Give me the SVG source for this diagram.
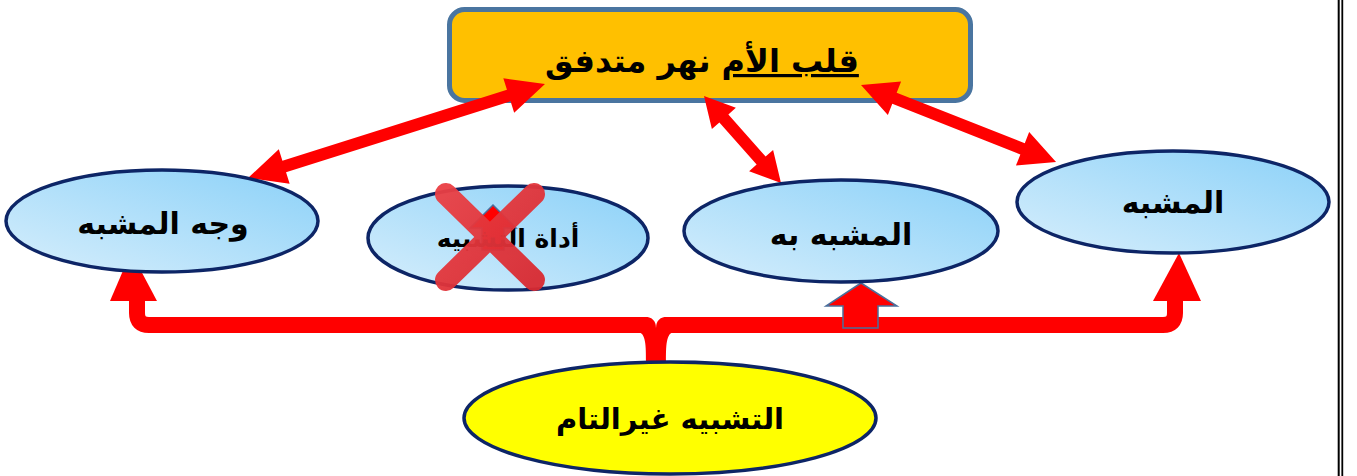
<svg xmlns="http://www.w3.org/2000/svg" width="1357" height="476" viewBox="0 0 1357 476">
<defs>
<linearGradient id="blue" x1="0" y1="1" x2="1" y2="0">
<stop offset="0" stop-color="#d6eefc"/>
<stop offset="1" stop-color="#8bd1f8"/>
</linearGradient>
<linearGradient id="xg" x1="0" y1="0" x2="1" y2="1">
<stop offset="0" stop-color="#ea3f44"/>
<stop offset="1" stop-color="#d92a31"/>
</linearGradient>
</defs>
<style>
.ell{fill:url(#blue);stroke:#0d2566;stroke-width:3.5}
.lbl{font-family:"DejaVu Sans",sans-serif;font-weight:bold;fill:#000;text-anchor:middle}
.red{fill:#ff0000}
.blk{fill:#ff0000;stroke:#4a6f9c;stroke-width:1.5}
</style>
<rect width="1357" height="476" fill="#fff"/>
<line x1="1338.7" y1="0" x2="1338.7" y2="476" stroke="#000" stroke-width="2"/>
<line x1="1342.3" y1="0" x2="1342.3" y2="476" stroke="#000" stroke-width="1.8"/>

<g id="node-top">
<rect x="449.5" y="9.5" width="521" height="91" rx="15" fill="#ffc000" stroke="#4a75a0" stroke-width="5"/>
<text class="lbl" x="702" y="72" font-size="32" direction="rtl"><tspan text-decoration="underline">قلب الأم</tspan> نهر متدفق</text>
</g>

<g id="connectors">
<polygon class="red" transform="translate(248,178) rotate(-17.56)" points="0,0 38,-18 38,-6 273.5,-6 273.5,-18 311.5,0 273.5,18 273.5,6 38,6 38,18"/>
<polygon class="red" transform="translate(704,96) rotate(48.5)" points="0,0 30,-16 30,-6 86.2,-6 86.2,-16 116.2,0 86.2,16 86.2,6 30,6 30,16"/>
<polygon class="red" transform="translate(861,85) rotate(21.55)" points="0,0 36,-18 36,-6 173.7,-6 173.7,-18 209.7,0 173.7,18 173.7,6 36,6 36,18"/>
<path d="M137,298 L137,313 Q137,325 149,325 L1163,325 Q1175,325 1175,313 L1175,298" fill="none" stroke="#ff0000" stroke-width="16"/>
<polygon class="red" points="131,252 157,301 110,301"/>
<polygon class="red" points="1179,253 1201,301 1153,301"/>
<path class="red" d="M638,332 C646,333 646,346 646,362 L666,362 C666,346 666,333 674,332 Z"/>
<path d="M644,316.5 Q656,317 656,328 Q656,317 668,316.5 Z" fill="#fff"/>
<polygon class="blk" points="861,283 897,306 878,306 878,328 843,328 843,306 826,306"/>
</g>

<g id="node-wajh">
<ellipse class="ell" cx="162" cy="221" rx="156" ry="51"/>
<text class="lbl" x="163" y="234" font-size="30" direction="rtl">وجه المشبه</text>
</g>

<g id="node-adat">
<ellipse class="ell" cx="508" cy="238" rx="140" ry="52"/>
<polygon class="blk" points="493,205 516,228 504,228 504,250 482,250 482,228 470,228"/>
<text class="lbl" x="508" y="247" font-size="25" direction="rtl">أداة التشبيه</text>
<g stroke="url(#xg)" stroke-width="22" stroke-linecap="round" opacity="0.95">
<line x1="446" y1="194" x2="534" y2="280"/>
<line x1="534" y1="194" x2="446" y2="280"/>
</g>
</g>

<g id="node-mushabbah-bih">
<ellipse class="ell" cx="841" cy="231" rx="157" ry="51"/>
<text class="lbl" x="841" y="245" font-size="30" direction="rtl">المشبه به</text>
</g>

<g id="node-mushabbah">
<ellipse class="ell" cx="1173" cy="202" rx="156" ry="51"/>
<text class="lbl" x="1173" y="213" font-size="30" direction="rtl">المشبه</text>
</g>

<g id="node-root">
<ellipse cx="670" cy="418" rx="206" ry="56" fill="#ffff00" stroke="#0d2566" stroke-width="3.5"/>
<text class="lbl" x="670" y="429" font-size="29" direction="rtl">التشبيه غيرالتام</text>
</g>
</svg>
